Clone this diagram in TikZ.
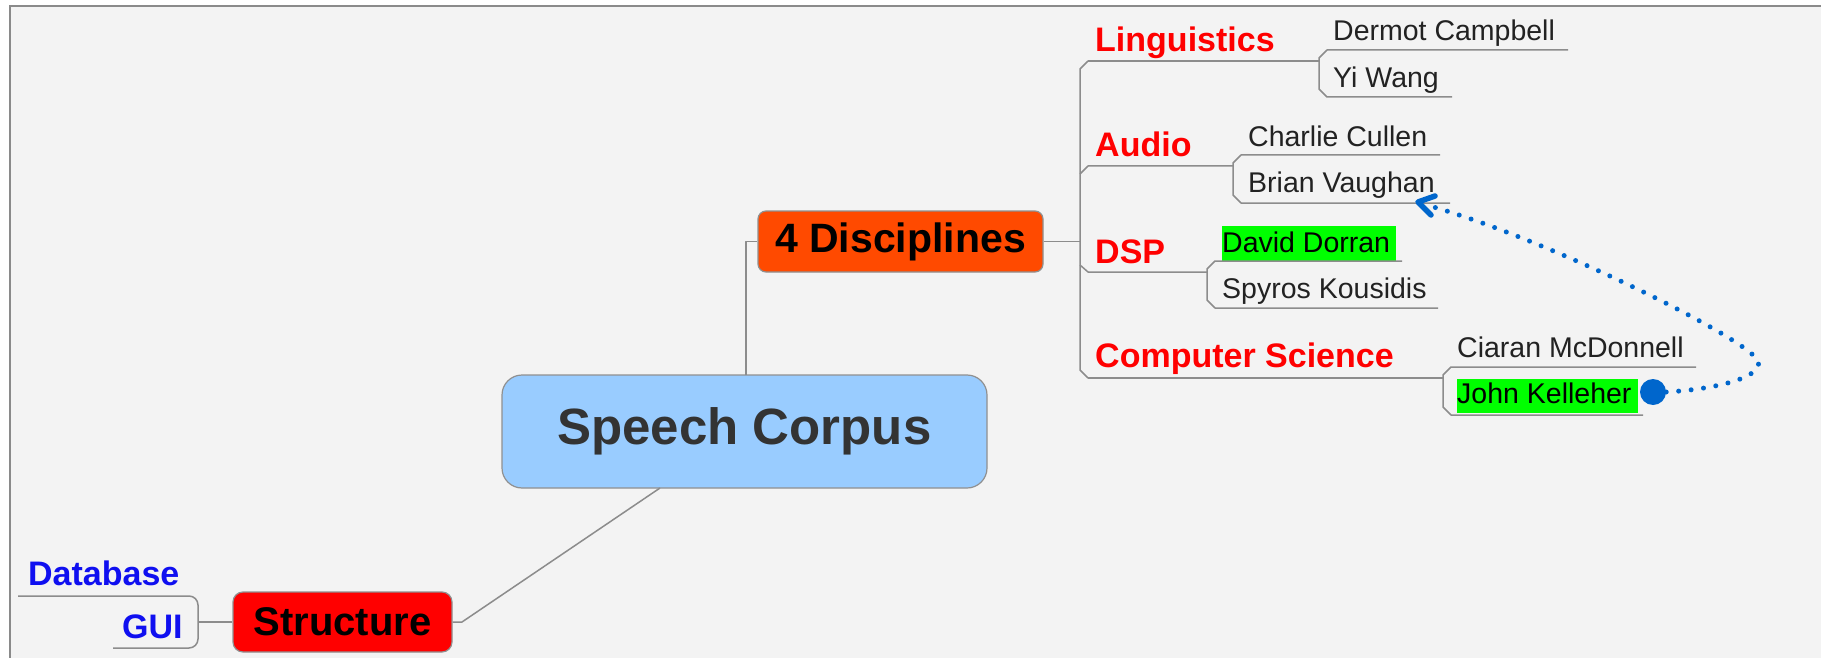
\documentclass[tikz,border=0pt]{standalone}
\usepackage{fontspec}
\setmainfont{Liberation Sans}
\usetikzlibrary{arrows.meta}
\definecolor{bg}{HTML}{F3F3F3}
\definecolor{frameline}{HTML}{8A8A8A}
\definecolor{conn}{HTML}{8C8C8C}
\definecolor{boxline}{HTML}{909090}
\definecolor{scfill}{HTML}{99CCFF}
\definecolor{scText}{HTML}{333333}
\definecolor{discfill}{HTML}{FF4A00}
\definecolor{structfill}{HTML}{FF0000}
\definecolor{catred}{HTML}{FF0000}
\definecolor{catblue}{HTML}{0F0FF0}
\definecolor{namegray}{HTML}{222222}
\definecolor{hlgreen}{HTML}{00FF00}
\definecolor{linkblue}{HTML}{0066CC}
\begin{document}
\begin{tikzpicture}[x=1pt,y=-1pt,
  conline/.style={draw=conn, line width=1.5pt, line join=round},
  topicbox/.style={draw=boxline, line width=1.2pt, inner sep=0pt, align=center},
  cat/.style={anchor=base west, inner sep=0pt, text=catred, font=\fontsize{34}{40}\selectfont\bfseries},
  catb/.style={anchor=base west, inner sep=0pt, text=catblue, font=\fontsize{34}{40}\selectfont\bfseries},
  person/.style={anchor=base west, inner sep=0pt, text=namegray, font=\fontsize{28.5}{34}\selectfont},
  hlperson/.style={anchor=base west, inner sep=0pt, text=black, font=\fontsize{28.5}{34}\selectfont},
  hlbox/.style={fill=hlgreen},
  linkdots/.style={draw=linkblue, line width=5pt, line cap=round, dash pattern=on 0pt off 12.5pt},
  linktip/.style={draw=linkblue, line width=5.5pt, line cap=round, line join=round}
]
\useasboundingbox (0,0) rectangle (1821,658);
\fill[white] (0,0) rectangle (1821,658);
\fill[bg] (10,6) rectangle (1821,658);
\draw[frameline, line width=1.5pt] (10,658) -- (10,6) -- (1821,6);

% main topics
\node[topicbox, fill=scfill, rounded corners=20pt, minimum width=485pt, minimum height=113pt,
      text=scText, font=\fontsize{51}{60}\selectfont\bfseries] (sc) at (744.5,431.5) {Speech Corpus};
\node[topicbox, fill=discfill, rounded corners=8pt, minimum width=285pt, minimum height=61pt,
      text=black, font=\fontsize{41}{48}\selectfont\bfseries] (disc) at (900.5,241.5) {4 Disciplines};
\node[topicbox, fill=structfill, rounded corners=10pt, minimum width=219pt, minimum height=60pt,
      text=black, font=\fontsize{40}{48}\selectfont\bfseries] (struct) at (342.5,622) {Structure};

% connectors main
\coordinate (sctop) at (746,375);
\coordinate (scbot) at (660,488);
\draw[conline] (sctop) -- (746,241.5) -- (disc.west);
\draw[conline] (scbot) -- (462,622) -- (struct.east);

% Structure side
\node[catb] (db) at (28,585) {Database};
\node[catb] (gui) at (122,638) {GUI};
\coordinate (dbl) at (18,596);
\coordinate (guil) at (113,648);
\coordinate (sbr) at (198,622);
\draw[conline, rounded corners=9pt] (dbl) -- (198,596) -- (198,648) -- (guil);
\draw[conline] (struct.west) -- (sbr);

% Disciplines side: trunk
\coordinate (trk) at (1080,241.5);
\draw[conline] (disc.east) -- (trk);
\draw[conline] (1088,61) -- (1080,69) -- (1080,370) -- (1088,378);

% categories
\node[cat] (ling) at (1095,52) {Linguistics};
\node[cat] (audio) at (1095,157) {Audio};
\node[cat] (dsp) at (1095,263) {DSP};
\node[cat] (cs) at (1095,367) {Computer Science};

% branch lines
\draw[conline] (1088,61) -- (1319,61);
\draw[conline] (1080,174) -- (1088,166) -- (1233,166);
\draw[conline] (1080,265) -- (1088,272) -- (1207,272);
\draw[conline] (1088,378) -- (1443,378);

% people: highlights
\fill[hlbox] (1222,226) rectangle (1396,261);
\fill[hlbox] (1457,379) rectangle (1638,413);

\node[person] (dermot) at (1333,41) {Dermot Campbell};
\node[person] (yi) at (1333,88) {Yi Wang};
\node[person] (charlie) at (1248,147) {Charlie Cullen};
\node[person] (brian) at (1248,193) {Brian Vaughan};
\node[hlperson] (david) at (1222,252) {David Dorran};
\node[person] (spyros) at (1222,298) {Spyros Kousidis};
\node[person] (ciaran) at (1457,357) {Ciaran McDonnell};
\node[hlperson] (john) at (1457,403) {John Kelleher};

% sub-brackets with underlines
\draw[conline] (1568,50) -- (1327,50) -- (1319,58) -- (1319,89) -- (1327,97) -- (1452,97);
\draw[conline] (1440,155) -- (1241,155) -- (1233,163) -- (1233,195) -- (1241,203) -- (1450,203);
\draw[conline] (1402,261) -- (1215,261) -- (1207,269) -- (1207,300) -- (1215,308) -- (1438,308);
\draw[conline] (1696,367) -- (1451,367) -- (1443,375) -- (1443,407) -- (1451,415) -- (1643,415);

% relationship link
\node[circle, fill=linkblue, inner sep=0pt, minimum size=26pt] (jkdot) at (1653,392) {};
\coordinate (bvend) at (1418,202);
\draw[linkdots] (jkdot.east) .. controls (1720,389) and (1764,376) .. (1758,361)
   .. controls (1750,340) and (1550,240) .. (1430,206);
\draw[linktip] (1435,196) -- (bvend) -- (1431,215);
\end{tikzpicture}
\end{document}
